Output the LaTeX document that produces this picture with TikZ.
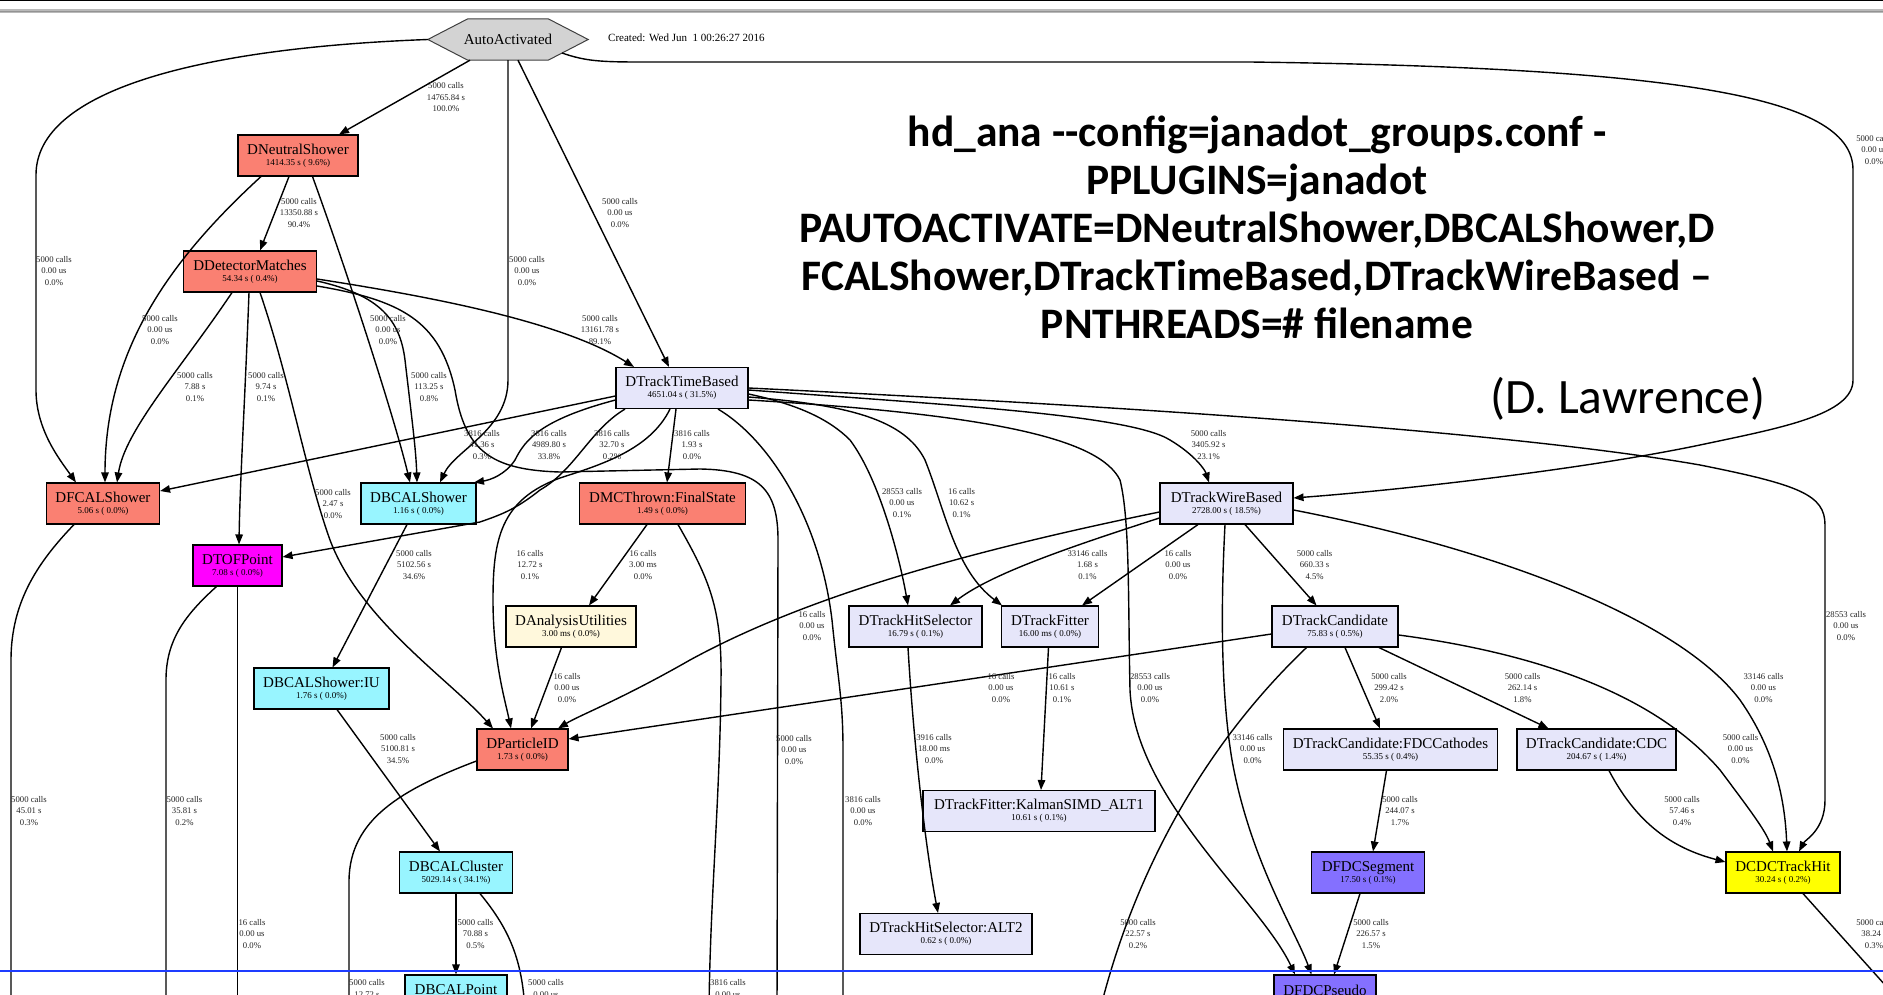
\documentclass[tikz,border=0pt]{standalone}
\usepackage{fontspec}
\setmainfont{Liberation Serif}
\newfontfamily\calibrifont{Carlito}
\usetikzlibrary{arrows.meta}
\definecolor{salm}{HTML}{FA8072}
\definecolor{cyn}{HTML}{98F5FF}
\definecolor{lav}{HTML}{E6E6FA}
\definecolor{mag}{HTML}{FF00FF}
\definecolor{corn}{HTML}{FFF8DC}
\definecolor{yel}{HTML}{FFFF00}
\definecolor{slb}{HTML}{8470FF}
\definecolor{hexg}{HTML}{D3D3D3}
\definecolor{bline}{HTML}{1E3CFF}
\newcommand\nlab[2]{#1\\[-1pt]{\fontsize{9}{9}\selectfont #2}}
\tikzset{
 box/.style={draw=black, line width=1.1pt, rectangle, minimum height=41pt, inner sep=0pt, align=center, font=\fontsize{15}{12}\selectfont},
 edge/.style={line width=1.4pt, -{Triangle[length=10pt,width=7.5pt]}},
 plain/.style={line width=1.4pt},
 lbl/.style={align=center, inner sep=0pt, text=black!85, font=\fontsize{8.7}{11.5}\selectfont},
}
\begin{document}
\begin{tikzpicture}[x=1pt,y=-1pt]
\useasboundingbox (0,0) rectangle (1883,995);
\clip (0,0) rectangle (1883,995);
\fill[white] (0,0) rectangle (1883,995);
% top bars
\fill[black] (0,0) rectangle (1883,1.5);
\draw[gray!55, line width=4pt] (0,11.5) -- (1883,11.5);
\draw[gray!85, line width=1.2pt] (0,11.5) -- (1883,11.5);

% ---------- nodes ----------
\node[minimum width=160pt, minimum height=41pt, inner sep=0pt] (auto) at (508,39.5) {};
\filldraw[fill=hexg, draw=black!75, line width=1pt] (auto.west) -- ([xshift=40pt]auto.north west) -- ([xshift=-40pt]auto.north east) -- (auto.east) -- ([xshift=-40pt]auto.south east) -- ([xshift=40pt]auto.south west) -- cycle;
\node[font=\fontsize{15}{15}\selectfont, inner sep=0pt] (autotxt) at (auto.center) {AutoActivated};
\node[anchor=west, inner sep=0pt, font=\fontsize{11}{11}\selectfont] (created) at (608,38) {Created: Wed Jun~~1 00:26:27 2016};

\node[box, fill=salm, minimum width=120pt] (dns) at (298,155.5) {\nlab{DNeutralShower}{1414.35 s ( 9.6\%)}};
\node[box, fill=salm, minimum width=133pt] (ddm) at (250,271.5) {\nlab{DDetectorMatches}{54.34 s ( 0.4\%)}};
\node[box, fill=salm, minimum width=113pt] (dfcal) at (103,503.5) {\nlab{DFCALShower}{5.06 s ( 0.0\%)}};
\node[box, fill=cyn, minimum width=115pt] (dbcal) at (418.5,503.5) {\nlab{DBCALShower}{1.16 s ( 0.0\%)}};
\node[box, fill=lav, minimum width=132pt] (dttb) at (682,388) {\nlab{DTrackTimeBased}{4651.04 s ( 31.5\%)}};
\node[box, fill=salm, minimum width=166pt] (dmc) at (662.5,503.5) {\nlab{DMCThrown:FinalState}{1.49 s ( 0.0\%)}};
\node[box, fill=mag, minimum width=89pt] (dtof) at (237.5,565.5) {\nlab{DTOFPoint}{7.08 s ( 0.0\%)}};
\node[box, fill=corn, minimum width=130pt] (dau) at (571,626.5) {\nlab{DAnalysisUtilities}{3.00 ms ( 0.0\%)}};
\node[box, fill=lav, minimum width=133pt] (dtwb) at (1226.5,503.5) {\nlab{DTrackWireBased}{2728.00 s ( 18.5\%)}};
\node[box, fill=lav, minimum width=133pt] (dths) at (915.5,626.5) {\nlab{DTrackHitSelector}{16.79 s ( 0.1\%)}};
\node[box, fill=lav, minimum width=97pt] (dtf) at (1050,626.5) {\nlab{DTrackFitter}{16.00 ms ( 0.0\%)}};
\node[box, fill=lav, minimum width=126pt] (dtc) at (1335,626.5) {\nlab{DTrackCandidate}{75.83 s ( 0.5\%)}};
\node[box, fill=cyn, minimum width=135pt] (dbiu) at (321.5,688.5) {\nlab{DBCALShower:IU}{1.76 s ( 0.0\%)}};
\node[box, fill=salm, minimum width=91pt] (dpid) at (522.5,749.5) {\nlab{DParticleID}{1.73 s ( 0.0\%)}};
\node[box, fill=cyn, minimum width=113pt] (dbclu) at (456,872.5) {\nlab{DBCALCluster}{5029.14 s ( 34.1\%)}};
\node[box, fill=cyn, minimum width=102pt] (dbpt) at (456,995.5) {\nlab{DBCALPoint}{}};
\node[box, fill=lav, minimum width=232pt] (dkal) at (1039,811) {\nlab{DTrackFitter:KalmanSIMD\_ALT1}{10.61 s ( 0.1\%)}};
\node[box, fill=lav, minimum width=172pt] (dalt) at (946,934) {\nlab{DTrackHitSelector:ALT2}{0.62 s ( 0.0\%)}};
\node[box, fill=lav, minimum width=214pt] (dfdcc) at (1390.5,749.5) {\nlab{DTrackCandidate:FDCCathodes}{55.35 s ( 0.4\%)}};
\node[box, fill=lav, minimum width=159pt] (dcdc) at (1596.5,749.5) {\nlab{DTrackCandidate:CDC}{204.67 s ( 1.4\%)}};
\node[box, fill=slb, minimum width=113pt] (dseg) at (1368,872.5) {\nlab{DFDCSegment}{17.50 s ( 0.1\%)}};
\node[box, fill=yel, minimum width=114pt] (dhit) at (1783,872.5) {\nlab{DCDCTrackHit}{30.24 s ( 0.2\%)}};
\node[box, fill=slb, minimum width=102pt] (dpse) at (1325,995.5) {\nlab{DFDCPseudo}{}};

% off-picture ends
\coordinate (o14) at (777,1010);
\coordinate (o21) at (709,1010);
\coordinate (o28) at (525,1010);
\coordinate (o29) at (349,1010);
\coordinate (o30) at (11,1010);
\coordinate (o31) at (166,1010);
\coordinate (o32) at (237.5,1010);
\coordinate (o37) at (843,1010);
\coordinate (o48) at (1100,1010);
\coordinate (o52) at (1903,1005);

% ---------- edges ----------
\draw[edge] ([xshift=-38pt]auto.south) -- ([xshift=41pt]dns.north);
\draw[edge] (auto.west) .. controls (200,48) and (36,90) .. (36,175) -- (36,390) .. controls (36,430) and (60,460) .. ([xshift=-27pt]dfcal.north);
\draw[edge] (auto.south) -- (508,380) .. controls (508,430) and (455,450) .. ([xshift=21.5pt]dbcal.north);
\draw[edge] ([xshift=10pt]auto.south) -- ([xshift=-13pt]dttb.north);
\draw[edge] ([shift={(54,13.5)}]auto.center) .. controls (585,61) and (600,62) .. (640,62) -- (1250,62) .. controls (1700,68) and (1853,100) .. (1853,170) -- (1853,380) .. controls (1853,415) and (1780,428) .. (1700,445) .. controls (1580,470) and (1400,490) .. ([shift={(0,-5.5)}]dtwb.east);
\draw[edge] ([xshift=-9pt]dns.south) -- ([xshift=10pt]ddm.north);
\draw[edge] ([xshift=-37pt]dns.south) .. controls (170,260) and (105,350) .. ([xshift=2pt]dfcal.north);
\draw[edge] ([xshift=14.5pt]dns.south) .. controls (350,280) and (395,420) .. ([xshift=-8.5pt]dbcal.north);
\draw[edge] ([xshift=-18pt]ddm.south) .. controls (180,370) and (125,430) .. ([xshift=14pt]dfcal.north);
\draw[edge] ([xshift=-1pt]ddm.south) .. controls (245,400) and (240,480) .. ([xshift=1.5pt]dtof.north);
\draw[edge] ([xshift=10pt]ddm.south) .. controls (290,380) and (305,470) .. (330,540) .. controls (360,620) and (450,680) .. ([xshift=-29.5pt]dpid.north);
\draw[edge] ([shift={(0,9.5)}]ddm.east) .. controls (380,295) and (400,320) .. (405,360) .. controls (412,420) and (416,450) .. ([xshift=-1.5pt]dbcal.north);
\draw[edge] ([shift={(0,7.5)}]ddm.east) .. controls (420,295) and (560,320) .. ([xshift=-48pt]dttb.north);
\draw[plain] ([shift={(0,14.5)}]ddm.east) .. controls (400,300) and (440,320) .. (455,390) .. controls (465,450) and (490,470) .. (560,472) -- (700,469) .. controls (760,470) and (778,490) .. (778,540) -- (o14);
\draw[edge] ([shift={(0,8)}]dttb.west) -- ([shift={(0,-12.5)}]dfcal.east);
\draw[edge] ([shift={(0,12)}]dttb.west) .. controls (540,420) and (525,440) .. (515,460) .. controls (505,475) and (490,480) .. ([xshift=55.5pt]dbcal.north);
\draw[edge] ([xshift=-57pt]dttb.south) .. controls (590,430) and (575,470) .. (540,490) .. controls (515,510) and (500,515) .. (480,522) -- ([shift={(0,-8.5)}]dtof.east);
\draw[edge] ([xshift=-12pt]dttb.south) .. controls (650,450) and (600,465) .. (560,478) .. controls (500,500) and (493,540) .. (493,600) .. controls (493,660) and (505,700) .. ([xshift=-11.5pt]dpid.north);
\draw[edge] ([xshift=-6pt]dttb.south) -- ([xshift=4.5pt]dmc.north);
\draw[edge] ([xshift=-15.5pt]dmc.south) -- ([xshift=18pt]dau.north);
\draw[plain] ([xshift=15.5pt]dmc.south) .. controls (710,580) and (722,610) .. (721,680) .. controls (720,800) and (710,900) .. (o21);
\draw[edge] ([xshift=-9.5pt]dau.south) -- ([xshift=8.5pt]dpid.north);
\draw[edge] ([shift={(0,8.5)}]dtwb.west) .. controls (950,555) and (800,600) .. (690,660) .. controls (620,700) and (580,715) .. ([xshift=35.5pt]dpid.north);
\draw[edge] ([shift={(0,7.5)}]dtc.west) -- ([shift={(0,-10.5)}]dpid.east);
\draw[edge] ([xshift=-11.5pt]dbcal.south) -- ([xshift=11pt]dbiu.north);
\draw[edge] ([xshift=15.5pt]dbiu.south) -- ([xshift=-16pt]dbclu.north);
\draw[edge] (dbclu.south) -- (dbpt.north);
\draw[plain] ([xshift=24pt]dbclu.south) .. controls (510,930) and (522,960) .. (o28);
\draw[plain] ([shift={(0,11.5)}]dpid.west) .. controls (400,790) and (350,820) .. (349,880) -- (o29);
\draw[plain] ([xshift=-29pt]dfcal.south) .. controls (40,560) and (11,600) .. (11,660) -- (o30);
\draw[plain] ([xshift=-21pt]dtof.south) .. controls (185,615) and (166,640) .. (166,680) -- (o31);
\draw[plain] (dtof.south) -- (o32);
\draw[edge] ([shift={(0,2)}]dttb.east) .. controls (950,405) and (1130,415) .. (1170,440) .. controls (1195,455) and (1205,470) .. ([xshift=-17.5pt]dtwb.north);
\draw[edge] ([shift={(0,6)}]dttb.east) .. controls (800,405) and (830,420) .. (850,440) .. controls (880,480) and (900,560) .. ([xshift=-7.5pt]dths.north);
\draw[edge] ([shift={(0,9)}]dttb.east) .. controls (850,405) and (905,420) .. (925,460) .. controls (945,510) and (955,570) .. ([xshift=-48pt]dtf.north);
\draw[edge] ([shift={(0,12)}]dttb.east) .. controls (1000,415) and (1100,440) .. (1120,480) .. controls (1130,520) and (1128,600) .. (1130,690) .. controls (1135,800) and (1260,900) .. ([xshift=-30pt]dpse.north);
\draw[plain] ([xshift=36pt]dttb.south) .. controls (770,440) and (820,520) .. (832,620) .. controls (838,680) and (843,700) .. (843,750) -- (o37);
\draw[edge] (dttb.east) .. controls (1100,405) and (1500,430) .. (1700,465) .. controls (1800,485) and (1825,495) .. (1825,525) -- (1825,800) .. controls (1825,830) and (1805,840) .. ([xshift=16pt]dhit.north);
\draw[edge] ([shift={(0,14.5)}]dtwb.west) .. controls (1060,550) and (990,575) .. ([xshift=34.5pt]dths.north);
\draw[edge] ([xshift=-28.5pt]dtwb.south) -- ([xshift=32pt]dtf.north);
\draw[edge] ([xshift=18.5pt]dtwb.south) -- ([xshift=-18.5pt]dtc.north);
\draw[edge] ([xshift=-1.5pt]dtwb.south) .. controls (1220,620) and (1222,700) .. (1232,760) .. controls (1250,860) and (1295,930) .. ([xshift=-13.5pt]dpse.north);
\draw[edge] ([shift={(0,6.5)}]dtwb.east) .. controls (1500,550) and (1680,620) .. (1740,700) .. controls (1775,750) and (1785,800) .. ([xshift=4pt]dhit.north);
\draw[edge] ([xshift=10pt]dtc.south) -- ([xshift=-10.5pt]dfdcc.north);
\draw[edge] ([xshift=44pt]dtc.south) -- ([xshift=-48pt]dcdc.north);
\draw[edge] ([shift={(0,8.5)}]dtc.east) .. controls (1550,655) and (1660,700) .. (1720,770) .. controls (1750,810) and (1765,830) .. ([xshift=-10pt]dhit.north);
\draw[plain] ([xshift=-28.5pt]dtc.south) .. controls (1220,730) and (1140,850) .. (o48);
\draw[edge] ([xshift=-4pt]dfdcc.south) -- ([xshift=5pt]dseg.north);
\draw[edge] ([xshift=12.5pt]dcdc.south) .. controls (1640,830) and (1680,850) .. ([shift={(0,-10.5)}]dhit.west);
\draw[edge] ([xshift=-8pt]dseg.south) -- ([xshift=9pt]dpse.north);
\draw[edge] ([xshift=-7.5pt]dths.south) .. controls (914,750) and (926,850) .. ([xshift=-8pt]dalt.north);
\draw[edge] ([xshift=-1.5pt]dtf.south) -- ([xshift=2pt]dkal.north);
\draw[plain] ([xshift=20pt]dhit.south) -- (o52);

% ---------- edge labels ----------
\node[lbl] (l1) at (446,97.5) {5000 calls\\14765.84 s\\100.0\%};
\node[lbl] (l2) at (54,271) {5000 calls\\0.00 us\\0.0\%};
\node[lbl] (l3) at (527,271) {5000 calls\\0.00 us\\0.0\%};
\node[lbl] (l4) at (620,213) {5000 calls\\0.00 us\\0.0\%};
\node[lbl] (l5) at (1874,150) {5000 calls\\0.00 us\\0.0\%};
\node[lbl] (l6) at (299,213) {5000 calls\\13350.88 s\\90.4\%};
\node[lbl] (l7) at (160,330) {5000 calls\\0.00 us\\0.0\%};
\node[lbl] (l8) at (388,330) {5000 calls\\0.00 us\\0.0\%};
\node[lbl] (l9) at (195,387) {5000 calls\\7.88 s\\0.1\%};
\node[lbl] (l10) at (266,387) {5000 calls\\9.74 s\\0.1\%};
\node[lbl] (l11) at (333,504) {5000 calls\\2.47 s\\0.0\%};
\node[lbl] (l12) at (429,387) {5000 calls\\113.25 s\\0.8\%};
\node[lbl] (l13) at (600,330) {5000 calls\\13161.78 s\\89.1\%};
\node[lbl] (l14) at (794,750) {5000 calls\\0.00 us\\0.0\%};
\node[lbl] (l15) at (482,445) {3816 calls\\41.36 s\\0.3\%};
\node[lbl] (l16) at (549,445) {3816 calls\\4989.80 s\\33.8\%};
\node[lbl] (l17) at (612,445) {3816 calls\\32.70 s\\0.2\%};
\node[lbl] (l18) at (530,565) {16 calls\\12.72 s\\0.1\%};
\node[lbl] (l19) at (692,445) {3816 calls\\1.93 s\\0.0\%};
\node[lbl] (l20) at (643,565) {16 calls\\3.00 ms\\0.0\%};
\node[lbl] (l21) at (728,994.5) {3816 calls\\0.00 us\\0.0\%};
\node[lbl] (l22) at (567,688) {16 calls\\0.00 us\\0.0\%};
\node[lbl] (l23) at (812,626) {16 calls\\0.00 us\\0.0\%};
\node[lbl] (l24) at (1001,688) {16 calls\\0.00 us\\0.0\%};
\node[lbl] (l25) at (414,565) {5000 calls\\5102.56 s\\34.6\%};
\node[lbl] (l26) at (398,749) {5000 calls\\5100.81 s\\34.5\%};
\node[lbl] (l27) at (475.5,934) {5000 calls\\70.88 s\\0.5\%};
\node[lbl] (l28) at (546,994.5) {5000 calls\\0.00 us\\0.0\%};
\node[lbl] (l29) at (367,994.5) {5000 calls\\12.72 s\\0.1\%};
\node[lbl] (l30) at (29,811) {5000 calls\\45.01 s\\0.3\%};
\node[lbl] (l31) at (184.5,811) {5000 calls\\35.81 s\\0.2\%};
\node[lbl] (l32) at (252,934) {16 calls\\0.00 us\\0.0\%};
\node[lbl] (l33) at (1208.5,445) {5000 calls\\3405.92 s\\23.1\%};
\node[lbl] (l34) at (902,503) {28553 calls\\0.00 us\\0.1\%};
\node[lbl] (l35) at (961.6,503) {16 calls\\10.62 s\\0.1\%};
\node[lbl] (l36) at (1150,688) {28553 calls\\0.00 us\\0.0\%};
\node[lbl] (l37) at (863,811) {3816 calls\\0.00 us\\0.0\%};
\node[lbl] (l38) at (1846,626) {28553 calls\\0.00 us\\0.0\%};
\node[lbl] (l39) at (1087.5,565) {33146 calls\\1.68 s\\0.1\%};
\node[lbl] (l40) at (1178,565) {16 calls\\0.00 us\\0.0\%};
\node[lbl] (l41) at (1314.6,565) {5000 calls\\660.33 s\\4.5\%};
\node[lbl] (l42) at (1252.6,749) {33146 calls\\0.00 us\\0.0\%};
\node[lbl] (l43) at (1763.5,688) {33146 calls\\0.00 us\\0.0\%};
\node[lbl] (l45) at (1389,688) {5000 calls\\299.42 s\\2.0\%};
\node[lbl] (l46) at (1522.5,688) {5000 calls\\262.14 s\\1.8\%};
\node[lbl] (l47) at (1740.5,749) {5000 calls\\0.00 us\\0.0\%};
\node[lbl] (l48) at (1138,934) {5000 calls\\22.57 s\\0.2\%};
\node[lbl] (l49) at (1400,811) {5000 calls\\244.07 s\\1.7\%};
\node[lbl] (l50) at (1682,811) {5000 calls\\57.46 s\\0.4\%};
\node[lbl] (l51) at (1371,934) {5000 calls\\226.57 s\\1.5\%};
\node[lbl] (l52) at (1874,934) {5000 calls\\38.24 s\\0.3\%};
\node[lbl] (l53) at (934,749) {3916 calls\\18.00 ms\\0.0\%};
\node[lbl] (l54) at (1062,688) {16 calls\\10.61 s\\0.1\%};

% ---------- overlay text ----------
\node[font=\calibrifont\bfseries\fontsize{43.5}{48}\selectfont, align=center, inner sep=0pt] (cmd) at (1257,227) {hd\_ana -{}-config=janadot\_groups.conf -\\PPLUGINS=janadot\\PAUTOACTIVATE=DNeutralShower,DBCALShower,D\\FCALShower,DTrackTimeBased,DTrackWireBased –\\PNTHREADS=\# filename};
\node[anchor=base west, inner sep=0pt, font=\calibrifont\fontsize{49.5}{50}\selectfont] (author) at (1490,413) {(D. Lawrence)};

\draw[bline, line width=2pt] (0,971) -- (1883,971);
\end{tikzpicture}
\end{document}
